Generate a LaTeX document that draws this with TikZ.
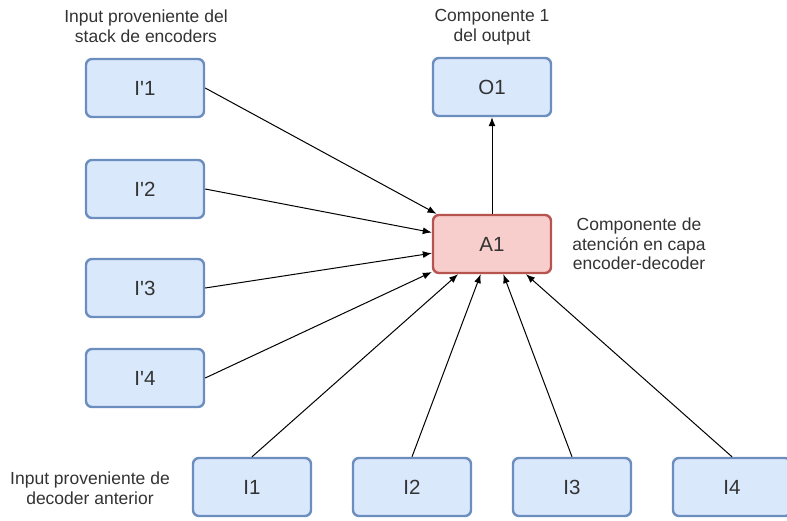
\documentclass[tikz,border=0pt]{standalone}
\usepackage{fontspec}
\setmainfont{Liberation Sans}
\usetikzlibrary{arrows.meta}
\definecolor{boxblue}{HTML}{DAE8FC}
\definecolor{lineblue}{HTML}{6C8EBF}
\definecolor{boxred}{HTML}{F8CECC}
\definecolor{linered}{HTML}{B85450}
\definecolor{txtgray}{HTML}{333333}

\begin{document}
\begin{tikzpicture}[x=1pt, y=-1pt, font=\fontsize{17.5}{19.5}\selectfont, line width=1pt, -{Latex[length=9pt,width=7pt]},
	inbox/.style={draw=lineblue, fill=boxblue, line width=2.4pt, rounded corners=6pt, minimum width=118pt, minimum height=58pt, font=\fontsize{20.5}{24}\selectfont, text=txtgray},
	attbox/.style={inbox, draw=linered, fill=boxred},
	lbl/.style={align=center, text=txtgray}]
	\useasboundingbox (0,0) rectangle (787,521);
	% labels
	\node[lbl] (enclbl) at (146,26) {Input proveniente del\\stack de encoders};
	\node[lbl] (outlbl) at (492,27) {Componente 1\\del output};
	\node[lbl] (attlbl) at (639,244) {Componente de\\atención en capa\\encoder-decoder};
	\node[lbl] (declbl) at (90,488) {Input proveniente de\\decoder anterior};
	% boxes
	\node[inbox] (ip1) at (145,88) {I\textquotesingle 1};
	\node[inbox] (ip2) at (145,189) {I\textquotesingle 2};
	\node[inbox] (ip3) at (145,288) {I\textquotesingle 3};
	\node[inbox] (ip4) at (145,378) {I\textquotesingle 4};
	\node[inbox] (o1) at (492,87) {O1};
	\node[attbox] (a1) at (492,244) {A1};
	\node[inbox] (i1) at (252,487) {I1};
	\node[inbox] (i2) at (412,487) {I2};
	\node[inbox] (i3) at (572,487) {I3};
	\node[inbox] (i4) at (732,487) {I4};
	% connections
	\draw (ip1.east) -- (a1);
	\draw (ip2.east) -- (a1);
	\draw (ip3.east) -- (a1);
	\draw (ip4.east) -- (a1);
	\draw (i1.north) -- (a1);
	\draw (i2.north) -- (a1);
	\draw (i3.north) -- (a1);
	\draw (i4.north) -- (a1);
	\draw (a1) -- (o1);
\end{tikzpicture}
\end{document}
